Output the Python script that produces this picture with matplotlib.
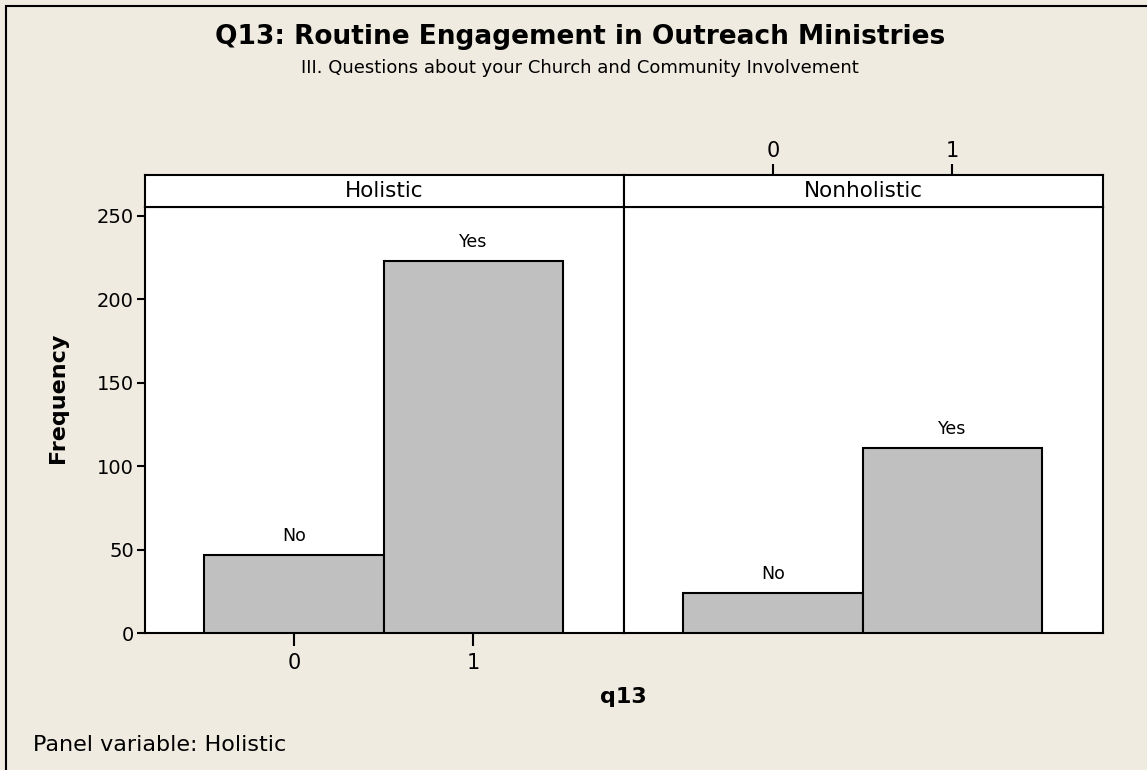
import numpy as np
import matplotlib.pyplot as plt
from matplotlib.patches import Rectangle

panels = ['Holistic', 'Nonholistic']
q13_values = [0, 1]
bar_labels = ['No', 'Yes']
counts = {
    'Holistic': [47, 223],
    'Nonholistic': [24, 111],
}

W, H = 1147, 770
bg = '#efebe1'
plt.rcParams['font.family'] = 'DejaVu Sans'

fig = plt.figure(figsize=(W / 100, H / 100), dpi=100)
fig.patch.set_facecolor(bg)

# outer frame (only top and left edges show in the original)
fig.add_artist(Rectangle((6 / W, -0.1), 1.2, (H - 6) / H + 0.1, transform=fig.transFigure,
                         fill=False, edgecolor='black', linewidth=1.5))


def fx(px):
    return px / W


def fy(py):
    return 1 - py / H


left, right = 145, 1103
mid = (left + right) / 2
y_bot, y_top, strip_top = 633.3, 207.3, 175
xlim = (-0.83, 1.84)

for i, name in enumerate(panels):
    x0 = left if i == 0 else mid
    x1 = mid if i == 0 else right
    ax = fig.add_axes([fx(x0), fy(y_bot), fx(x1 - x0), fy(y_top) - fy(y_bot)])
    ax.bar(q13_values, counts[name], width=1.0, color='#c0c0c0',
           edgecolor='black', linewidth=1.5, zorder=3)
    for xv, v, lab in zip(q13_values, counts[name], bar_labels):
        ax.text(xv, v + 6, lab, ha='center', va='bottom', fontsize=12.5)
    ax.set_xlim(*xlim)
    ax.set_ylim(0, 255)
    for s in ax.spines.values():
        s.set_linewidth(1.5)
    ax.tick_params(labelsize=15, length=9, width=1.5, pad=5)
    ax.set_xticks(q13_values)
    if i == 0:
        ax.set_yticks([0, 50, 100, 150, 200, 250])
        ax.tick_params(axis='y', length=6, pad=2, labelsize=14)
    else:
        ax.set_yticks([])
        ax.tick_params(axis='x', bottom=False, labelbottom=False)

    # strip header
    sax = fig.add_axes([fx(x0), fy(y_top), fx(x1 - x0), fy(strip_top) - fy(y_top)])
    sax.set_xlim(*xlim)
    sax.set_yticks([])
    if i == 1:
        sax.set_xticks(q13_values)
        sax.tick_params(axis='x', bottom=False, labelbottom=False, top=True, labeltop=True,
                        labelsize=15, length=8, width=1.5, pad=2)
    else:
        sax.set_xticks([])
    for s in sax.spines.values():
        s.set_linewidth(1.5)
    sax.text(0.5, 0.5, name, ha='center', va='center', fontsize=15.5, transform=sax.transAxes)

fig.text(fx(580), fy(37), 'Q13: Routine Engagement in Outreach Ministries',
         ha='center', va='center', fontsize=19, fontweight='bold')
fig.text(fx(580), fy(68), 'III. Questions about your Church and Community Involvement',
         ha='center', va='center', fontsize=13)
fig.text(fx(58), fy(398), 'Frequency', ha='center', va='center', rotation=90,
         fontsize=16, fontweight='bold')
fig.text(fx(623), fy(697), 'q13', ha='center', va='center', fontsize=16, fontweight='bold')
fig.text(fx(33), fy(745), 'Panel variable: Holistic', ha='left', va='center', fontsize=16)

fig.savefig('out.png', dpi=100, facecolor=bg)
